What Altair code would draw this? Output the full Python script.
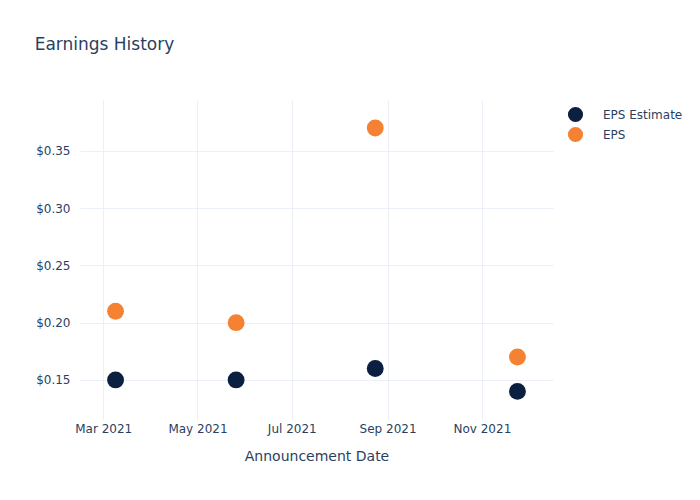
import altair as alt
import pandas as pd

dates = ["2021-03-09", "2021-05-26", "2021-08-24", "2021-11-24"]
eps_estimate = [0.15, 0.15, 0.16, 0.14]
eps_actual = [0.21, 0.20, 0.37, 0.17]
series_names = ["EPS Estimate", "EPS"]
series_colors = ["#0b1f41", "#f58232"]

rows = []
for d, e, a in zip(dates, eps_estimate, eps_actual):
    rows.append({"date": d, "value": e, "series": series_names[0]})
    rows.append({"date": d, "value": a, "series": series_names[1]})
df = pd.DataFrame(rows)

font = "DejaVu Sans"
txt = "#2a3f5f"
grid = "#ebf0f8"

tick_dates = [alt.DateTime(year=2021, month=m, date=1, utc=True) for m in [3, 5, 7, 9, 11]]

chart = alt.Chart(df).mark_circle(size=285, opacity=1).encode(
    x=alt.X("date:T",
            title="Announcement Date",
            scale=alt.Scale(type="utc",
                            domain=[alt.DateTime(year=2021, month=2, date=14, utc=True),
                                    alt.DateTime(year=2021, month=12, date=17, utc=True)]),
            axis=alt.Axis(values=tick_dates, format="%b %Y", grid=True, gridColor=grid,
                          ticks=False, domain=False, labelFont=font, labelFontSize=12,
                          labelColor=txt, labelPadding=3, titleFont=font, titleFontSize=14,
                          titleColor=txt, titleFontWeight="normal", titlePadding=15)),
    y=alt.Y("value:Q", title=None,
            scale=alt.Scale(domain=[0.115, 0.3945], nice=False, zero=False),
            axis=alt.Axis(values=[0.15, 0.2, 0.25, 0.3, 0.35], format="$.2f", grid=True,
                          gridColor=grid, ticks=False, domain=False, labelFont=font,
                          labelFontSize=12, labelColor=txt, labelPadding=10)),
    color=alt.Color("series:N",
                    scale=alt.Scale(domain=series_names, range=series_colors),
                    legend=alt.Legend(title=None, orient="none", legendX=487, legendY=6,
                                      symbolType="circle", symbolSize=230, symbolOpacity=1,
                                      labelFont=font, labelFontSize=12, labelColor=txt,
                                      rowPadding=3, labelOffset=19)),
    order=alt.Order("series:N", sort="descending"),
).properties(
    width=473, height=320,
    padding={"left": 80, "top": 100, "right": 147, "bottom": 80},
    autosize=alt.AutoSizeParams(type="none"),
    title=alt.TitleParams("Earnings History", anchor="start", font=font, fontSize=17,
                          color=txt, fontWeight="normal", dx=-1, dy=-42),
).configure_view(stroke=None)

chart.save("out.html", embed_options={"renderer": "svg", "actions": False})
